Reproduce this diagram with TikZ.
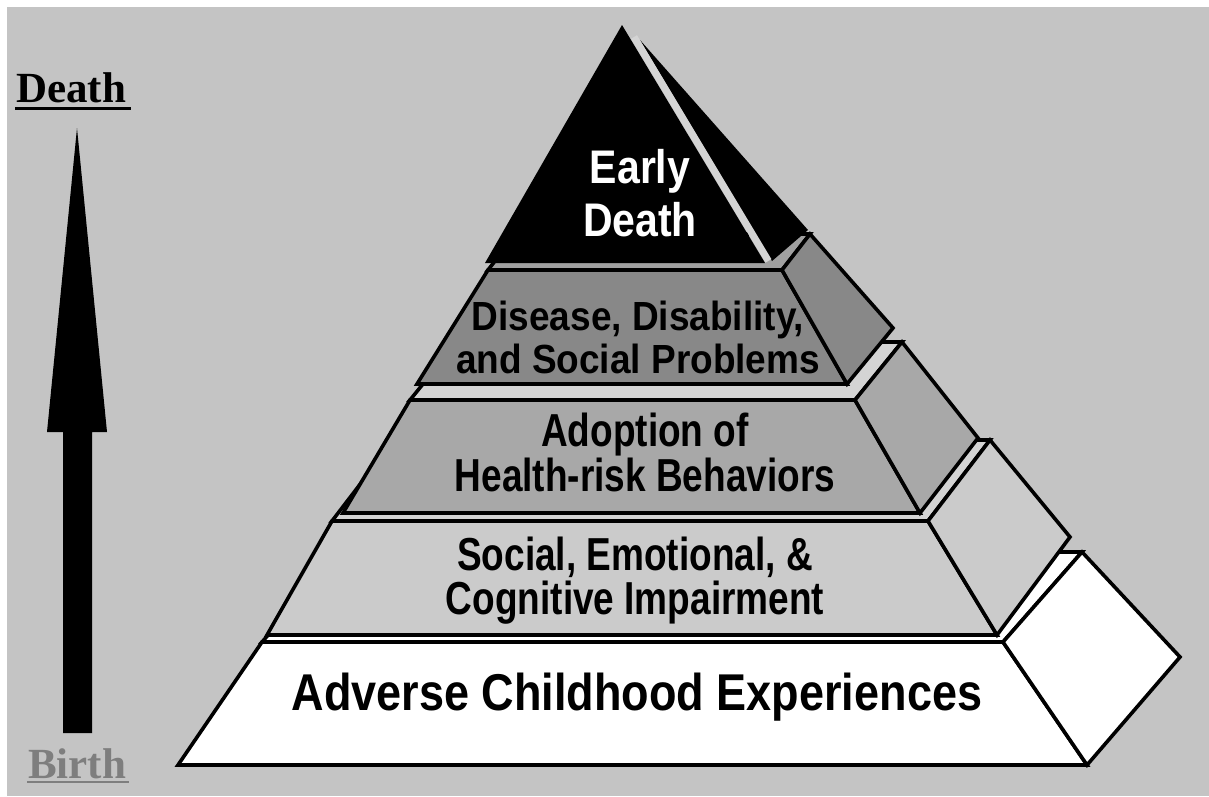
\documentclass[tikz,border=0pt]{standalone}
\usepackage{fontspec}
\setmainfont{Liberation Serif}
\newfontfamily\pyrsans{Liberation Sans}
\definecolor{bgc}{HTML}{C4C4C4}
\definecolor{socialc}{HTML}{CBCBCB}
\definecolor{adoptc}{HTML}{A8A8A8}
\definecolor{diseasec}{HTML}{888888}
\definecolor{ledgec}{HTML}{D4D4D4}
\definecolor{ledgedark}{HTML}{A0A0A0}
\definecolor{birthc}{HTML}{7E7E7E}
\newcommand{\tall}[2]{\scalebox{1}[#1]{#2}}
\begin{document}
\begin{tikzpicture}[x=1pt,y=-1pt,
  face/.style={draw=black,line width=3.6pt,line join=miter},
  lbl/.style={anchor=base,inner sep=0pt,font={\pyrsans\bfseries\fontsize{37pt}{40pt}\selectfont}},
  biglbl/.style={anchor=base,inner sep=0pt,font={\pyrsans\bfseries\fontsize{45pt}{48pt}\selectfont}},
  toplbl/.style={anchor=base,inner sep=0pt,text=white,font={\pyrsans\bfseries\fontsize{41pt}{44pt}\selectfont}},
  axislbl/.style={anchor=base west,inner sep=0pt,font={\bfseries\fontsize{43pt}{46pt}\selectfont}}]
\useasboundingbox (0,0) rectangle (1209,796);
\fill[white] (0,0) rectangle (1209,796);
\fill[bgc] (7,7) rectangle (1209,796);

% left arrow
\fill[black] (63,733) -- (92,733) -- (92,432) -- (107,432) -- (77,128) -- (47,432) -- (63,432) -- cycle;
\node[axislbl] (deathlbl) at (16,102) {Death};
\draw[line width=3pt] ([xshift=-1pt,yshift=-6.5pt]deathlbl.base west) -- ([xshift=5pt,yshift=-6.5pt]deathlbl.base east);
\node[axislbl,text=birthc] (birthlbl) at (28,778) {Birth};
\draw[line width=2.5pt,birthc] ([xshift=-1pt,yshift=-4pt]birthlbl.base west) -- ([xshift=3pt,yshift=-4pt]birthlbl.base east);

% layer 1
\filldraw[face,fill=white] (262,642) -- (1003,642) -- (1082,552) -- (341,552) -- cycle;
\filldraw[face,fill=white] (262,642) -- (1003,642) -- (1087,765) -- (178,765) -- cycle;
\filldraw[face,fill=white] (1003,642) -- (1082,552) -- (1180,657) -- (1087,765) -- cycle;

% layer 2
\filldraw[face,fill=ledgec] (332,521) -- (928,521) -- (990,440) -- (394,440) -- cycle;
\filldraw[face,fill=socialc] (332,521) -- (928,521) -- (997,635) -- (267,635) -- cycle;
\filldraw[face,fill=socialc] (928,521) -- (990,440) -- (1070,537) -- (997,635) -- cycle;

% layer 3
\filldraw[face,fill=ledgec] (410,400) -- (855,400) -- (902,342) -- (457,342) -- cycle;
\filldraw[face,fill=adoptc] (410,400) -- (855,400) -- (920,513) -- (343,513) -- cycle;
\filldraw[face,fill=adoptc] (855,400) -- (902,342) -- (978,438) -- (920,513) -- cycle;

% layer 4
\filldraw[face,fill=ledgedark] (488,270) -- (782,270) -- (810,234) -- (516,234) -- cycle;
\filldraw[face,fill=diseasec] (488,270) -- (782,270) -- (847,384) -- (417,384) -- cycle;
\filldraw[face,fill=diseasec] (782,270) -- (810,234) -- (893,328) -- (847,384) -- cycle;

% top
\fill[black] (640,40) -- (808,230) -- (772,261) -- cycle;
\draw[line width=7pt,ledgec] (634,37) -- (768.4,260.9);
\fill[black] (622,25) -- (765,263) -- (485,263) -- cycle;

% labels
\node[toplbl] (early) at (640,183) {\tall{1.15}{Early}};
\node[toplbl] (edeath) at (640,236) {\tall{1.15}{Death}};
\node[lbl] (dis1) at (638,330) {\tall{1.1}{Disease, Disability,}};
\node[lbl] (dis2) at (638,373) {\tall{1.1}{and Social Problems}};
\node[lbl] (ado1) at (645,446) {\tall{1.25}{Adoption of}};
\node[lbl] (ado2) at (645,491) {\tall{1.25}{Health-risk Behaviors}};
\node[lbl] (soc1) at (635,570) {\tall{1.25}{Social, Emotional, \&}};
\node[lbl] (soc2) at (635,614) {\tall{1.25}{Cognitive Impairment}};
\node[biglbl] (ace) at (637,710) {\tall{1.15}{Adverse Childhood Experiences}};
\end{tikzpicture}
\end{document}
